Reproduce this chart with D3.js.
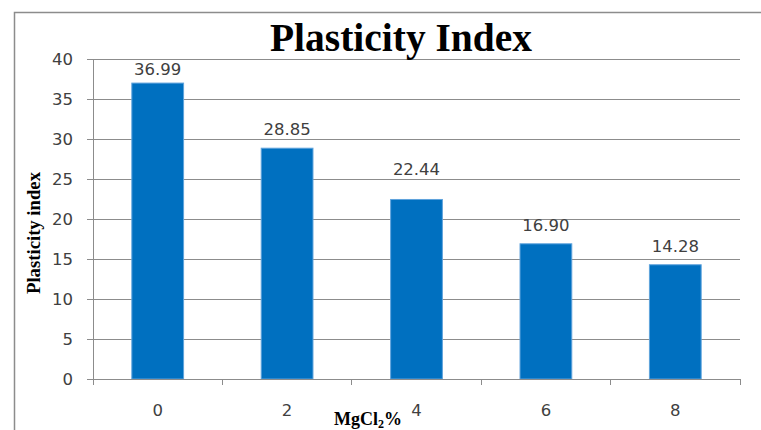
<!DOCTYPE html>
<html>
<head>
<meta charset="utf-8">
<script src="https://cdn.jsdelivr.net/npm/d3@7/dist/d3.min.js"></script>
<style>
  html, body { margin: 0; padding: 0; background: #fff; }
  svg { display: block; }
</style>
</head>
<body>
<script>
// MgCl2 content (%) and the measured plasticity index for each dosage
const categories = ["0", "2", "4", "6", "8"];
const plasticityValues = [36.99, 28.85, 22.44, 16.90, 14.28];
const valueLabels = ["36.99", "28.85", "22.44", "16.90", "14.28"];
const yTicks = [0, 5, 10, 15, 20, 25, 30, 35, 40];

const W = 761, H = 430;
const plot = { left: 93, right: 740, top: 59, bottom: 379 };

const svg = d3.select("body").append("svg")
  .attr("width", W).attr("height", H);

// outer chart frame (left and top edges)
svg.append("path")
  .attr("d", `M14.5,${H} L14.5,12.5 L${W},12.5`)
  .attr("fill", "none")
  .attr("stroke", "#8c8c8c")
  .attr("stroke-width", 1.5);

const x = d3.scaleBand()
  .domain(categories)
  .range([plot.left, plot.right])
  .paddingInner(0.6)
  .paddingOuter(0.3);

const y = d3.scaleLinear()
  .domain([0, 40])
  .range([plot.bottom, plot.top]);

const gridColor = "#8c8c8c";
const textColor = "#404040";
const sans = "'DejaVu Sans', sans-serif";
const serif = "'Liberation Serif', 'Times New Roman', serif";

// horizontal gridlines
const grid = svg.append("g")
  .attr("transform", `translate(${plot.left},0)`)
  .call(d3.axisLeft(y).tickValues(yTicks).tickSize(-(plot.right - plot.left)).tickFormat(""));
grid.select(".domain").remove();
grid.selectAll("line").attr("stroke", gridColor).attr("shape-rendering", "crispEdges");

// y axis with tick labels
const yAxis = svg.append("g")
  .attr("transform", `translate(${plot.left},0)`)
  .call(d3.axisLeft(y).tickValues(yTicks).tickSize(6).tickPadding(14));
yAxis.select(".domain").attr("stroke", gridColor).attr("shape-rendering", "crispEdges");
yAxis.selectAll("line").attr("stroke", gridColor).attr("shape-rendering", "crispEdges");
yAxis.selectAll("text")
  .attr("fill", textColor)
  .style("font-family", sans)
  .style("font-size", "16.5px");

// bars
svg.append("g").selectAll("rect")
  .data(plasticityValues)
  .join("rect")
  .attr("x", (d, i) => x(categories[i]))
  .attr("y", d => y(d))
  .attr("width", x.bandwidth())
  .attr("height", d => y(0) - y(d))
  .attr("fill", "#0070c0")
  .attr("stroke", "#5fa3dc")
  .attr("stroke-width", 1);

// x axis: category labels at band centres
const xAxis = svg.append("g")
  .attr("transform", `translate(0,${plot.bottom})`)
  .call(d3.axisBottom(x).tickSize(0).tickPadding(25));
xAxis.select(".domain").remove();
xAxis.selectAll("text")
  .attr("fill", textColor)
  .style("font-family", sans)
  .style("font-size", "16.5px");

// baseline and tick marks between categories
const gap = (x.step() - x.bandwidth()) / 2;
const boundaries = categories.map(c => x(c) - gap).concat([x(categories[categories.length - 1]) + x.bandwidth() + gap]);
svg.append("line")
  .attr("x1", plot.left).attr("x2", plot.right)
  .attr("y1", y(0)).attr("y2", y(0))
  .attr("stroke", gridColor).attr("shape-rendering", "crispEdges");
svg.append("g").selectAll("line")
  .data(boundaries)
  .join("line")
  .attr("x1", d => d).attr("x2", d => d)
  .attr("y1", y(0)).attr("y2", y(0) + 6)
  .attr("stroke", gridColor).attr("shape-rendering", "crispEdges");

// value labels above the bars
const labelLift = [0, 0, 11, 0, 0];
svg.append("g").selectAll("text")
  .data(plasticityValues)
  .join("text")
  .attr("x", (d, i) => x(categories[i]) + x.bandwidth() / 2)
  .attr("y", (d, i) => Math.max(y(d) - 13, plot.top + 16) - labelLift[i])
  .attr("text-anchor", "middle")
  .attr("fill", textColor)
  .style("font-family", sans)
  .style("font-size", "16.5px")
  .text((d, i) => valueLabels[i]);

// chart title
svg.append("text")
  .attr("x", 401).attr("y", 51)
  .attr("text-anchor", "middle")
  .attr("textLength", 262)
  .attr("lengthAdjust", "spacingAndGlyphs")
  .style("font-family", serif)
  .style("font-weight", "bold")
  .style("font-size", "40px")
  .attr("fill", "#000")
  .text("Plasticity Index");

// y axis title
svg.append("text")
  .attr("transform", "translate(40,233) rotate(-90)")
  .attr("text-anchor", "middle")
  .attr("textLength", 122)
  .attr("lengthAdjust", "spacingAndGlyphs")
  .style("font-family", serif)
  .style("font-weight", "bold")
  .style("font-size", "19px")
  .attr("fill", "#000")
  .text("Plasticity index");

// x axis title with subscript
const xt = svg.append("text")
  .attr("x", 368).attr("y", 425)
  .attr("text-anchor", "middle")
  .style("font-family", serif)
  .style("font-weight", "bold")
  .style("font-size", "18px")
  .attr("fill", "#000");
xt.append("tspan").text("MgCl");
xt.append("tspan").attr("dy", 3).style("font-size", "12px").text("2");
xt.append("tspan").attr("dy", -3).text("%");
</script>
</body>
</html>
